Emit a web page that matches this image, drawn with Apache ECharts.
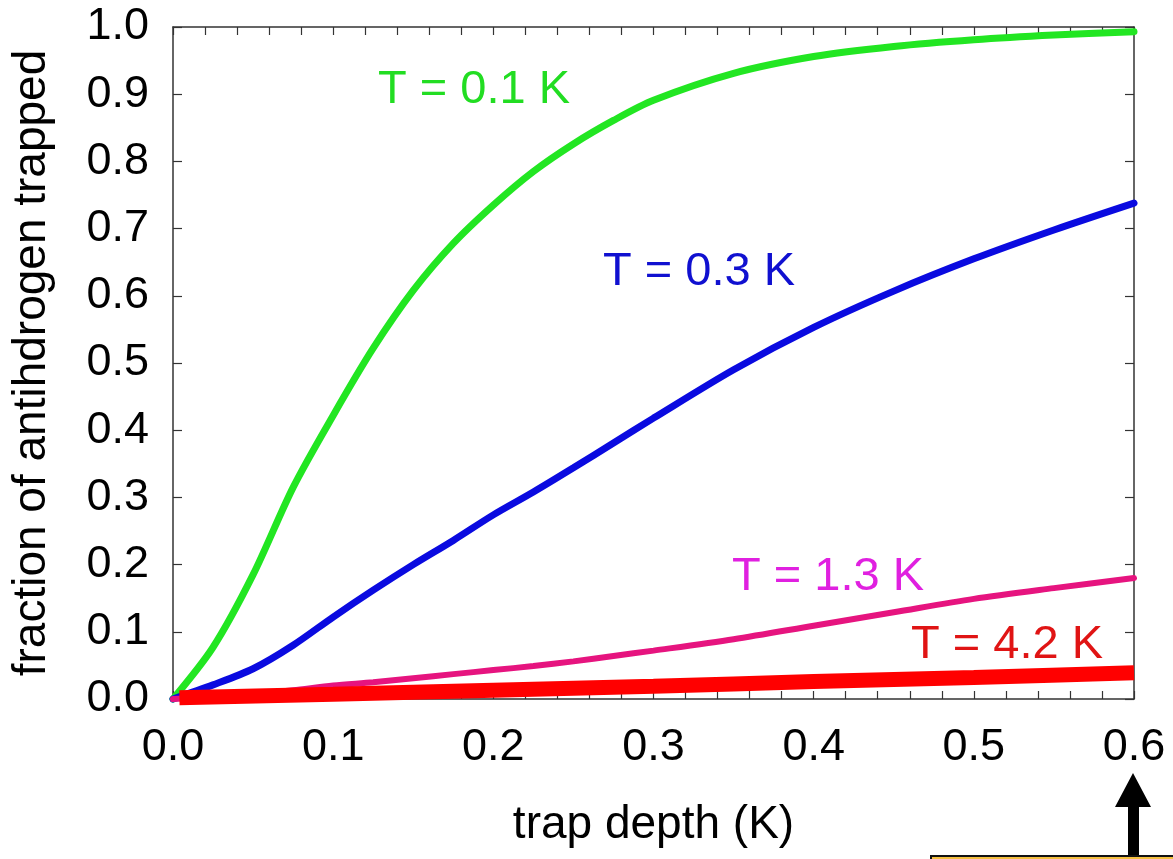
<!DOCTYPE html>
<html>
<head>
<meta charset="utf-8">
<script src="https://cdn.jsdelivr.net/npm/echarts@6/dist/echarts.min.js"></script>
<style>
  html, body { margin: 0; padding: 0; background: #fff; }
  #chart { width: 1173px; height: 859px; }
</style>
</head>
<body>
<div id="chart"></div>
<script>
// trap depth (K)
const depth = [0, 0.025, 0.05, 0.075, 0.1, 0.125, 0.15, 0.175, 0.2, 0.225, 0.25, 0.275, 0.3, 0.35, 0.4, 0.45, 0.5, 0.55, 0.6];
// fraction trapped for each temperature
const t01 = [0, 0.077, 0.185, 0.315, 0.422, 0.522, 0.608, 0.678, 0.735, 0.785, 0.826, 0.861, 0.891, 0.931, 0.956, 0.971, 0.981, 0.988, 0.993];
const t03 = [0, 0.021, 0.045, 0.08, 0.122, 0.162, 0.2, 0.236, 0.274, 0.308, 0.344, 0.381, 0.418, 0.49, 0.553, 0.607, 0.655, 0.698, 0.738];
const t13 = [0, 0.003, 0.007, 0.013, 0.02, 0.025, 0.031, 0.037, 0.043, 0.049, 0.056, 0.064, 0.072, 0.089, 0.109, 0.129, 0.149, 0.165, 0.18];
const depth42 = [0.004, 0.1, 0.2, 0.3, 0.4, 0.5, 0.6];
const t42 = [0.002, 0.007, 0.013, 0.019, 0.026, 0.032, 0.039];

const labels = ["T = 0.1 K", "T = 0.3 K", "T = 1.3 K", "T = 4.2 K"];

function pairs(xs, ys) {
  return xs.map((x, i) => [x, ys[i]]);
}

const FONT = "Liberation Sans, Arial, sans-serif";

function tick(len) {
  return { show: true, inside: true, length: len, lineStyle: { color: "#333", width: 1.2 } };
}
function axisLine() {
  return { show: true, onZero: false, lineStyle: { color: "#333", width: 1.5 } };
}

function line(name, xs, ys, color, width) {
  return {
    name: name,
    type: "line",
    data: pairs(xs, ys),
    showSymbol: false,
    symbol: "none",
    clip: false,
    smooth: 0.3,
    lineStyle: { color: color, width: width, cap: width > 10 ? "butt" : "round" },
    emphasis: { disabled: true },
  };
}

const myChart = echarts.init(document.getElementById("chart"));
myChart.setOption({
  animation: false,
  backgroundColor: "#fff",
  grid: { left: 173, right: 39, top: 27, bottom: 160 },
  xAxis: [
    {
      type: "value",
      position: "bottom",
      min: 0,
      max: 0.6,
      interval: 0.02,
      axisLine: axisLine(),
      axisTick: tick(8),
      splitLine: { show: false },
      name: "trap depth (K)",
      nameLocation: "middle",
      nameGap: 103,
      nameTextStyle: { fontFamily: FONT, fontSize: 46, color: "#000" },
      axisLabel: {
        margin: 26,
        fontFamily: FONT,
        fontSize: 45,
        color: "#000",
        formatter: (v) => (Math.round(v * 100) % 10 === 0 ? v.toFixed(1) : ""),
      },
    },
    {
      type: "value",
      position: "top",
      min: 0,
      max: 0.6,
      interval: 0.02,
      axisLine: axisLine(),
      axisTick: tick(8),
      splitLine: { show: false },
      axisLabel: { show: false },
    },
  ],
  yAxis: [
    {
      type: "value",
      position: "left",
      min: 0,
      max: 1,
      interval: 0.1,
      axisLine: axisLine(),
      axisTick: tick(9),
      splitLine: { show: false },
      name: "fraction of antihdrogen trapped",
      nameLocation: "middle",
      nameGap: 118,
      nameTextStyle: { fontFamily: FONT, fontSize: 46, color: "#000" },
      axisLabel: {
        margin: 24,
        fontFamily: FONT,
        fontSize: 45,
        color: "#000",
        formatter: (v) => v.toFixed(1),
      },
    },
    {
      type: "value",
      position: "right",
      min: 0,
      max: 1,
      interval: 0.1,
      axisLine: axisLine(),
      axisTick: tick(9),
      splitLine: { show: false },
      axisLabel: { show: false },
    },
  ],
  series: [
    line(labels[0], depth, t01, "#22e622", 7),
    line(labels[1], depth, t03, "#0a0ae0", 7),
    line(labels[2], depth, t13, "#e6147f", 6),
    line(labels[3], depth42, t42, "#ff0000", 15),
  ],
  graphic: [
    { type: "text", x: 474, y: 90, style: { text: labels[0], fill: "#22dd22", font: "47px " + FONT, align: "center", verticalAlign: "middle" } },
    { type: "text", x: 699, y: 272, style: { text: labels[1], fill: "#1010d0", font: "47px " + FONT, align: "center", verticalAlign: "middle" } },
    { type: "text", x: 828, y: 577, style: { text: labels[2], fill: "#e020e0", font: "47px " + FONT, align: "center", verticalAlign: "middle" } },
    { type: "text", x: 1007, y: 645, style: { text: labels[3], fill: "#e01414", font: "47px " + FONT, align: "center", verticalAlign: "middle" } },
    // arrow pointing at 0.6
    {
      type: "polygon",
      shape: { points: [[1133, 773], [1151, 807], [1139, 807], [1139, 857], [1128, 857], [1128, 807], [1115, 807]] },
      style: { fill: "#000" },
    },
    // box at the lower right corner
    {
      type: "rect",
      shape: { x: 931, y: 856, width: 250, height: 12 },
      style: { fill: "#f5c040", stroke: "#111", lineWidth: 2 },
    },
  ],
});
</script>
</body>
</html>
